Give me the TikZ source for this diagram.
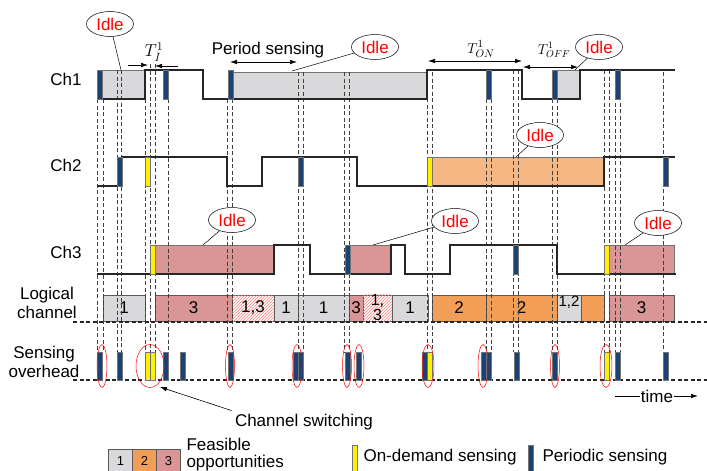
\documentclass[tikz,border=0pt]{standalone}
\usepackage{fontspec}
\setmainfont{Liberation Sans}
\usetikzlibrary{arrows.meta,shapes.geometric,patterns}

\definecolor{idlegray}{RGB}{217,217,219}
\definecolor{chorange}{RGB}{247,183,130}
\definecolor{lcorange}{RGB}{243,158,86}
\definecolor{idlered}{RGB}{217,150,148}
\definecolor{psblue}{RGB}{28,66,116}
\definecolor{odyellow}{RGB}{255,240,0}

\tikzset{
    sig/.style={line width=2pt,black!85},
    vline/.style={black!75,line width=0.6pt,dash pattern=on 4pt off 2.5pt},
    baseline dots/.style={black!85,line width=1.6pt,dash pattern=on 4pt off 2.5pt},
    pbar/.style={fill=psblue,draw=black!55,line width=0.3pt},
    obar/.style={fill=odyellow,draw=black!55,line width=0.3pt},
    idle/.style={ellipse,draw,line width=0.5pt,fill=white,text=red,
        minimum width=47pt,minimum height=25pt,inner sep=0pt},
    lcbox/.style={draw=black!65,line width=0.5pt,minimum height=26pt,
        inner sep=0pt,outer sep=0pt},
    hatch/.style={lcbox,fill=white,
        postaction={pattern=north east lines,pattern color=red!50}},
    swring/.style={red,line width=0.5pt},
}

\begin{document}
\begin{tikzpicture}[x=1pt,y=-1pt,>={Latex[length=7pt,width=4.5pt]},
    font=\fontsize{17}{19}\selectfont]
    \useasboundingbox (0,0) rectangle (707,471);

    %======================================================
    % row labels
    %======================================================
    \node (ch1) at (66,79) {Ch1};
    \node (ch2) at (66,165) {Ch2};
    \node (ch3) at (66,252) {Ch3};
    \node[align=center] (lc) at (47,303) {Logical\\channel};
    \node[align=center] (so) at (44,362) {Sensing\\overhead};

    %======================================================
    % idle periods (fills)
    %======================================================
    \filldraw[idlegray,draw=black!55,line width=0.4pt] (97,70) rectangle (145,99);
    \filldraw[idlegray,draw=black!55,line width=0.4pt] (229,72) rectangle (427,99);
    \filldraw[idlegray,draw=black!55,line width=0.4pt] (556,70) rectangle (580,99);

    \filldraw[chorange,draw=black!55,line width=0.4pt] (432,157) rectangle (604,186);

    \filldraw[idlered,draw=black!55,line width=0.4pt] (155,245) rectangle (274,274);
    \filldraw[idlered,draw=black!55,line width=0.4pt] (350,245) rectangle (391,274);
    \filldraw[idlered,draw=black!55,line width=0.4pt] (609,245) rectangle (674,274);

    %======================================================
    % logical channel
    %======================================================
    \foreach \x/\w/\c/\t [count=\i] in {103/42pt/idlegray/1, 155/77pt/idlered/3,
        274/24pt/idlegray/1, 298/51pt/idlegray/1, 349/14pt/idlered/3,
        392/36pt/idlegray/1, 432/54pt/lcorange/2, 486/71pt/lcorange/2,
        581/23pt/lcorange/{}, 609/65pt/idlered/3}{
        \node[lcbox,fill=\c,minimum width=\w,anchor=west] (lc\i) at (\x,308) {\t};
    }
    \node[hatch,minimum width=42pt,anchor=west] (lh1) at (232,308) {1,3};
    \node[hatch,minimum width=29pt,anchor=west,align=center,
        font=\fontsize{16}{15}\selectfont] (lh2) at (363,308) {1,\\3};
    \node[lcbox,fill=idlegray,minimum width=24pt,anchor=west] (lc12) at (557,308) {};
    \node[font=\fontsize{15}{15}\selectfont] (lc12t) at (569,302) {1,2};

    %======================================================
    % dashed guide lines
    %======================================================
    \foreach \x/\y in {97/99, 103/99, 117/70, 121/70, 145/99, 150/64, 155/64,
        168/99, 227/99, 232/99, 298/72, 303/72, 344/72, 349/72, 427/72, 432/72,
        486/99, 491/99, 513/70, 518/70, 552/99, 557/99, 604/70, 609/70,
        615/70, 620/70, 663/72}{
        \draw[vline] (\x,\y) -- (\x,352);
    }

    % base lines of the two lower rows
    \draw[baseline dots] (73,322) -- (707,322);
    \draw[baseline dots] (73,380) -- (707,380);

    %======================================================
    % channel states
    %======================================================
    \draw[sig] (97,99) -- (145,99) -- (145,70) -- (203,70) -- (203,99)
        -- (427,99) -- (427,70) -- (522,70) -- (522,99) -- (580,99)
        -- (580,70) -- (675,70);
    \draw[sig] (97,186) -- (122,186) -- (122,157) -- (227,157) -- (227,186)
        -- (262,186) -- (262,157) -- (357,157) -- (357,186) -- (604,186)
        -- (604,157) -- (675,157);
    \draw[sig] (97,274) -- (274,274) -- (274,245) -- (310,245) -- (310,274)
        -- (391,274) -- (391,245) -- (405,245) -- (405,274) -- (450,274)
        -- (450,245) -- (557,245) -- (557,274) -- (676,274);

    % sensing slots on the channels
    \foreach \x in {97,163,228,486,552,615}{
        \draw[pbar] (\x,70) rectangle ++(5,29);
    }
    \foreach \x in {117,298,663}{
        \draw[pbar] (\x,157) rectangle ++(5,29);
    }
    \foreach \x in {145,427}{
        \draw[obar] (\x,157) rectangle ++(5,29);
    }
    \foreach \x in {345,513}{
        \draw[pbar] (\x,245) rectangle ++(5,29);
    }
    \foreach \x in {150,604}{
        \draw[obar] (\x,245) rectangle ++(5,29);
    }

    %======================================================
    % sensing overhead
    %======================================================
    \foreach \x in {97,117,163,180,228,293,298,345,356,422,481,486,514,552,615,663}{
        \draw[pbar] (\x,352) rectangle ++(5,28);
    }
    \foreach \x in {145,150,427,604}{
        \draw[obar] (\x,352) rectangle ++(5,28);
    }
    \foreach \x/\rx in {102/5pt,150/14pt,230/4.5pt,297/5pt,347/4.5pt,359/5pt,
        428/6pt,483/5pt,555/4.5pt,606/6pt}{
        \draw[swring] (\x,366) ellipse [x radius=\rx,y radius=21.5pt];
    }

    % channel switching
    \node (csw) at (304,422) {Channel switching};
    \coordinate (swtip) at (160,387);
    \draw[->,line width=0.6pt] (csw.north west) -- (swtip);

    % time axis
    \node[fill=white,inner sep=1pt] (time) at (657,396) {time};
    \coordinate (t0) at (615,396);
    \coordinate (t1) at (698,396);
    \draw[line width=0.7pt] (t0) -- (time.west);
    \draw[->,line width=0.7pt] (time.east) -- (t1);

    %======================================================
    % idle call-outs
    %======================================================
    \node[idle] (idA) at (110,24) {Idle};
    \node[idle] (idB) at (375,47) {Idle};
    \node[idle] (idC) at (599,47) {Idle};
    \node[idle] (idD) at (540,135) {Idle};
    \node[idle] (idE) at (232,220) {Idle};
    \node[idle] (idF) at (455,221) {Idle};
    \node[idle] (idG) at (658,223) {Idle};

    \coordinate (pA) at (121,70);
    \coordinate (pB) at (292,71);
    \coordinate (pC) at (575,70);
    \coordinate (pD) at (516,157);
    \coordinate (pE) at (203,245);
    \coordinate (pF) at (373,245);
    \coordinate (pG) at (625,245);
    \foreach \n in {A,B,C,D,E,F,G}{
        \draw[line width=0.5pt] (id\n) -- (p\n);
    }

    %======================================================
    % time intervals
    %======================================================
    \node (ti) at (154,52) {$T_I^1$};
    \coordinate (tiA) at (128,65);
    \coordinate (tiB) at (148,65);
    \coordinate (tiC) at (178,66);
    \coordinate (tiD) at (155,66);
    \draw[->,line width=0.6pt] (tiA) -- (tiB);
    \draw[->,line width=0.6pt] (tiC) -- (tiD);

    \node (ps) at (268,50) {Period sensing};
    \coordinate (psA) at (230,62);
    \coordinate (psB) at (297,62);
    \draw[<->,line width=0.6pt] (psA) -- (psB);

    \node[font=\fontsize{15}{15}\selectfont,inner sep=1pt] (ton) at (481,49) {$T_{ON}^1$};
    \coordinate (tonA) at (428,61);
    \coordinate (tonB) at (522,61);
    \draw[<->,line width=0.6pt] (tonA) -- (tonB);

    \node[font=\fontsize{14}{14}\selectfont,inner sep=1pt] (toff) at (554,50) {$T_{OFF}^1$};
    \coordinate (toffA) at (523,67);
    \coordinate (toffB) at (578,67);
    \draw[<->,line width=0.6pt] (toffA) -- (toffB);

    %======================================================
    % legend
    %======================================================
    \begin{scope}[every node/.style={lcbox,minimum width=24pt,minimum height=24pt,
        font=\fontsize{13}{13}\selectfont}]
        \node[fill=idlegray] (lg1) at (120.5,461) {1};
        \node[fill=lcorange] (lg2) at (144.5,461) {2};
        \node[fill=idlered] (lg3) at (168.5,461) {3};
    \end{scope}
    \node[anchor=west,align=left,font=\fontsize{17}{17}\selectfont] (feas)
        at (183,455) {Feasible\\opportunities};

    \draw[obar] (352,445) rectangle (357,474);
    \node[anchor=west] (od) at (360,457) {On-demand sensing};
    \draw[pbar] (528,445) rectangle (533,474);
    \node[anchor=west] (pe) at (539,457) {Periodic sensing};
\end{tikzpicture}
\end{document}
